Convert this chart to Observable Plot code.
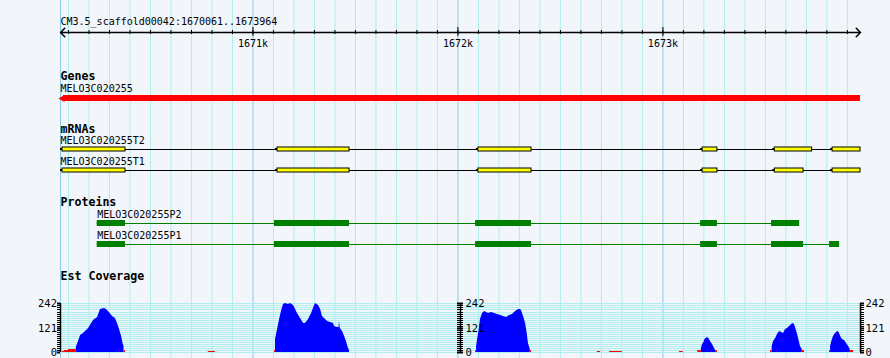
<!DOCTYPE html>
<html><head><meta charset="utf-8">
<script src="https://cdn.jsdelivr.net/npm/d3@7"></script>
<script src="https://cdn.jsdelivr.net/npm/@observablehq/plot@0.6"></script>
<style>
html,body{margin:0;padding:0;background:#f2f5fa;}
#chart{width:890px;}
#chart svg{display:block;}
</style></head><body><div id="chart"></div>
<script>
// ---------- data ----------
const refName = "CM3.5_scaffold00042";
const viewStart = 1670061, viewEnd = 1673964;
const majorTicks = [1671000, 1672000, 1673000];
const tickLabels = ["1671k", "1672k", "1673k"];
const minorTicks = [1670100,1670200,1670300,1670400,1670500,1670600,1670700,1670800,1670900,1671000,
  1671100,1671200,1671300,1671400,1671500,1671600,1671700,1671800,1671900,1672000,
  1672100,1672200,1672300,1672400,1672500,1672600,1672700,1672800,1672900,1673000,
  1673100,1673200,1673300,1673400,1673500,1673600,1673700,1673800,1673900];

const trackTitles = ["Genes", "mRNAs", "Proteins", "Est Coverage"];

const geneNames = ["MELO3C020255"];
const geneSpans = [[1670061, 1673964]];

const transcripts = ["MELO3C020255T2", "MELO3C020255T1"];
const transcriptExons = [
  [[1670061,1670378],[1671110,1671471],[1672090,1672359],[1673184,1673266],[1673536,1673728],[1673818,1673964]],
  [[1670061,1670378],[1671110,1671471],[1672090,1672359],[1673184,1673266],[1673536,1673686],[1673818,1673964]]
];

const proteins = ["MELO3C020255P2", "MELO3C020255P1"];
const proteinSpans = [[1670240, 1673667], [1670240, 1673862]];
const proteinBlocks = [
  [[1670240,1670378],[1671105,1671471],[1672086,1672359],[1673184,1673266],[1673530,1673667]],
  [[1670240,1670378],[1671105,1671471],[1672086,1672359],[1673184,1673266],[1673530,1673686],[1673813,1673862]]
];

const coverageMax = 242;
const coverageTicks = [0, 121, 242];
const coverageTickLabels = ["0", "121", "242"];
const coverageMinor = [0,10,20,30,40,50,60,70,80,90,100,110,120,130,140,150,160,170,180,190,200,210,220,230,240,242];

const coveragePeaks = [
  [[1670138,25],[1670149,54],[1670159,82],[1670173,95],[1670198,117],[1670222,158],[1670242,175],[1670256,210],[1670276,219],[1670285,214],[1670295,203],[1670315,178],[1670329,170],[1670339,145],[1670349,113],[1670359,80],[1670366,46],[1670371,30]],
  [[1671110,63],[1671120,112],[1671130,161],[1671139,202],[1671149,235],[1671159,240],[1671173,236],[1671183,240],[1671198,232],[1671208,210],[1671217,194],[1671232,170],[1671247,145],[1671256,142],[1671271,161],[1671286,194],[1671295,219],[1671305,240],[1671320,230],[1671330,211],[1671339,178],[1671349,166],[1671364,153],[1671378,148],[1671393,142],[1671398,128],[1671413,125],[1671420,125],[1671422,153],[1671426,120],[1671437,104],[1671447,79],[1671456,54],[1671466,21],[1671471,10]],
  [[1672091,30],[1672096,63],[1672104,112],[1672110,161],[1672120,194],[1672130,202],[1672140,199],[1672149,194],[1672164,198],[1672179,194],[1672193,186],[1672208,183],[1672222,178],[1672237,175],[1672252,181],[1672266,186],[1672281,202],[1672296,211],[1672305,214],[1672310,207],[1672320,178],[1672330,145],[1672338,96],[1672344,46],[1672353,17]],
  [[1673187,17],[1673193,38],[1673198,46],[1673205,63],[1673211,71],[1673218,76],[1673224,71],[1673232,54],[1673242,38],[1673252,21],[1673257,12]],
  [[1673533,30],[1673540,54],[1673550,71],[1673559,87],[1673569,104],[1673579,99],[1673589,96],[1673598,112],[1673608,120],[1673618,128],[1673628,137],[1673634,145],[1673642,137],[1673650,112],[1673657,87],[1673663,63],[1673671,30],[1673680,17]],
  [[1673818,30],[1673824,54],[1673832,79],[1673842,96],[1673852,104],[1673860,99],[1673867,79],[1673876,63],[1673886,58],[1673896,46],[1673906,30],[1673914,17]]
];

const lowCoverage = [
  [1670071,1670081,5],[1670081,1670100,12],[1670100,1670138,17],[1670371,1670378,8],
  [1670782,1670817,3],[1671105,1671110,10],[1672086,1672091,8],[1672353,1672359,10],
  [1672680,1672696,3],[1672740,1672802,3],[1673081,1673099,3],[1673170,1673187,8],
  [1673257,1673266,8],[1673525,1673533,10],[1673680,1673691,8],[1673813,1673818,10],[1673914,1673930,10]
];

// ---------- styles ----------
const BG = "#f2f5fa", MINOR = "#afeeee", MAJOR = "#87ceeb";
const FONT = "'DejaVu Sans Mono', monospace";
const base = {width: 890, marginLeft: 60, marginRight: 30, marginTop: 0, marginBottom: 0,
  style: {background: BG, fontFamily: FONT, fontSize: "10px", color: "black"}};
const X = {domain: [viewStart, viewEnd], axis: null};
const viewMid = (viewStart + viewEnd) / 2;

const grid = () => [
  Plot.ruleX(minorTicks.filter(t => !majorTicks.includes(t)), {stroke: MINOR}),
  Plot.ruleX([viewStart, ...majorTicks], {stroke: MAJOR})
];
const trackTitle = (i, dy) => Plot.text([trackTitles[i]], {frameAnchor: "top-left", dy, text: d => d,
  textAnchor: "start", lineAnchor: "middle", fontWeight: "bold", fontSize: 11.6});

// ---------- ruler ----------
const ruler = Plot.plot({...base, height: 62, x: X, y: {domain: [0, 1], range: [32, 22], axis: null},
  marks: [
    ...grid(),
    Plot.arrow([[viewMid, viewStart], [viewMid, viewEnd]], {x1: d => d[0], x2: d => d[1], y1: 0, y2: 0,
      stroke: "black", headLength: 6, headAngle: 90}),
    Plot.ruleX(minorTicks, {x: d => d, y1: 0, y2: 0, insetTop: -2, insetBottom: -2, stroke: "black"}),
    Plot.ruleX(majorTicks, {x: d => d, y1: 0, y2: 0, insetTop: -5, insetBottom: -4, stroke: "black"}),
    Plot.text([`${refName}:${viewStart}..${viewEnd}`], {x: viewStart, y: 0, dy: -11, text: d => d, textAnchor: "start"}),
    Plot.text(majorTicks, {x: d => d, y: 0, dy: 11, text: (d, i) => tickLabels[i]})
  ]});

// ---------- genes ----------
const genes = Plot.plot({...base, height: 58, x: X, y: {domain: [0, 1], range: [36, 26], axis: null},
  marks: [
    ...grid(),
    trackTitle(0, 14),
    Plot.rect(geneSpans, {x1: d => d[0], x2: d => d[1], y1: 0, y2: 0, insetTop: -3, insetBottom: -3, insetLeft: 3, fill: "red"}),
    Plot.dot(geneSpans, {x: d => d[0], y: 0, dx: 2, symbol: "triangle", rotate: -90, r: 2.6, fill: "red"}),
    Plot.text(geneNames, {x: (d, i) => geneSpans[i][0], y: 0, dy: -10, text: d => d, textAnchor: "start"})
  ]});

// ---------- mRNAs ----------
const exonRows = transcriptExons.flatMap((ex, row) => ex.map(([start, end]) => ({row, start, end})));
const mrnas = Plot.plot({...base, height: 70, x: X, y: {domain: [0, 1], range: [29, 50], axis: null},
  marks: [
    ...grid(),
    trackTitle(1, 8.3),
    Plot.ruleY(transcripts, {y: (d, i) => i, x1: viewStart, x2: viewEnd, stroke: "black"}),
    Plot.rect(exonRows, {x1: "start", x2: "start", y1: "row", y2: "row", insetTop: -1, insetBottom: -1,
      insetLeft: 0, insetRight: -2.5, fill: "black"}),
    Plot.rect(exonRows, {x1: "start", x2: "end", y1: "row", y2: "row", insetTop: -2, insetBottom: -2, insetLeft: 2,
      fill: "yellow", stroke: "black"}),
    Plot.text(transcripts, {x: viewStart, y: (d, i) => i, dy: -9, text: d => d, textAnchor: "start"})
  ]});

// ---------- proteins ----------
const blockRows = proteinBlocks.flatMap((bl, row) => bl.map(([start, end]) => ({row, start, end})));
const prots = Plot.plot({...base, height: 72, x: X, y: {domain: [0, 1], range: [33, 54], axis: null},
  marks: [
    ...grid(),
    trackTitle(2, 12),
    Plot.ruleY(proteins, {y: (d, i) => i, x1: (d, i) => proteinSpans[i][0], x2: (d, i) => proteinSpans[i][1], stroke: "green"}),
    Plot.rect(blockRows, {x1: "start", x2: "end", y1: "row", y2: "row", insetTop: -3, insetBottom: -3, fill: "green"}),
    Plot.text(proteins, {x: (d, i) => proteinSpans[i][0], y: (d, i) => i, dy: -9, text: d => d, textAnchor: "start"})
  ]});

// ---------- coverage ----------
const covPoints = coveragePeaks.flatMap((pk, peak) => pk.map(([pos, val]) => ({peak, pos, val})));
const axisAt = (pos, left, right, labelDx, anchor) => [
  Plot.ruleX([pos], {y1: 0, y2: coverageMax, stroke: "black", strokeWidth: 1.5}),
  Plot.ruleY(coverageMinor, {y: d => d, x1: pos, x2: pos, insetLeft: -left, insetRight: -right, stroke: "black"}),
  Plot.ruleY(coverageTicks, {y: d => d, x1: pos, x2: pos, insetLeft: -left, insetRight: -right, stroke: "black", strokeWidth: 2}),
  Plot.text(coverageTicks, {x: pos, y: d => d, dx: labelDx, text: (d, i) => coverageTickLabels[i], textAnchor: anchor, fontSize: 10.5})
];
const coverage = Plot.plot({...base, height: 96, x: X,
  y: {domain: [0, coverageMax], range: [90, 41], round: true, axis: null},
  marks: [
    ...grid(),
    Plot.ruleY(coverageMinor, {stroke: MINOR}),
    trackTitle(3, 14),
    Plot.areaY(covPoints, {x: "pos", y: "val", z: "peak", fill: "blue"}),
    Plot.rectY(lowCoverage, {x1: d => d[0], x2: d => d[1], y: d => d[2], fill: "red"}),
    ...axisAt(viewStart, 3, 0, -3.5, "end"),
    ...axisAt(viewMid, 3, 3, 5, "start"),
    ...axisAt(viewEnd, 0, 4, 5, "start")
  ]});

const chart = document.getElementById("chart");
[ruler, genes, mrnas, prots, coverage].forEach(p => chart.appendChild(p));
</script>
</body></html>
